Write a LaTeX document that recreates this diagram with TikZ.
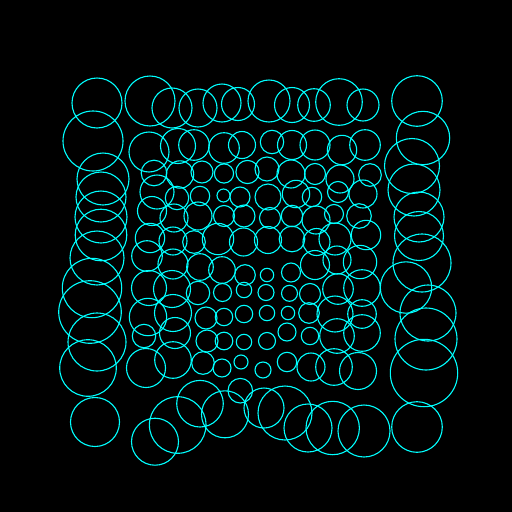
\documentclass[tikz,border=0pt]{standalone}
\begin{document}
\begin{tikzpicture}[x=1pt,y=-1pt,ring/.style={draw={rgb,255:red,0;green,255;blue,255},line width=1.1pt}]
\fill[black] (0,0) rectangle (512,512);
\useasboundingbox (0,0) rectangle (512,512);
% row 0
\foreach \x/\y/\r in {97/103/25,150/101/25,172/108/20,198/108/19,222/103/19,238/104/16.5,269/101/21,292/105/17.5,314/105/16.3,339/102/23.3,363/105/16,417/101/25.3}
  \draw[ring] (\x,\y) circle[radius=\r pt];
% row 1
\foreach \x/\y/\r in {93/141/30,149/152/20,178/146/17.5,194/145/15.3,224/148/15.3,242/145/13.5,272/142/11.7,292/145/14.5,315/145/15,342/150/14.7,365/145/15.3,423/138/26.7}
  \draw[ring] (\x,\y) circle[radius=\r pt];
% row 2
\foreach \x/\y/\r in {103/179/26,154/173/12.8,180/174.5/13.7,202/172/11,224/173.5/9.6,247.5/172/11.6,267/169/12,291/174/14,315/174/10.5,340/179/14,370/175/11.3,412/166/27.5}
  \draw[ring] (\x,\y) circle[radius=\r pt];
% row 3
\foreach \x/\y/\r in {101/197/25,157/192/17,177/198/11.7,200/196/9.7,223.5/195.5/6.5,240/197/10,268/197/13,296/194/13.7,312/197/9.7,338/192/10.5,363/194/14,414/190/26}
  \draw[ring] (\x,\y) circle[radius=\r pt];
% row 4
\foreach \x/\y/\r in {101/217/26,152/211/14.5,174/218/14,198/216/14,224/216/10.5,244/216/11,270/218/10.5,292/216/10.7,316/220/14,334/214/9.5,359/216/12.3,419/217/25}
  \draw[ring] (\x,\y) circle[radius=\r pt];
% row 5
\foreach \x/\y/\r in {101/235/25.8,150/238/14.7,173/241/14,194/242/11.3,218/239/15.7,243.5/242/14,268/240/13.5,292/239/12.8,316.5/242/13.5,335/239/16,366/235/14.7,419/236/24.5}
  \draw[ring] (\x,\y) circle[radius=\r pt];
% row 6
\foreach \x/\y/\r in {97/258/27,147/256/15.3,173/264/15,200/267/13.3,222/270/13.3,245/275/10.3,267/275/6.7,291/272.5/9.5,315/265/14.5,337/260/14,360/262/16.7,422/263/29}
  \draw[ring] (\x,\y) circle[radius=\r pt];
% row 7
\foreach \x/\y/\r in {92/288/29.7,149/288/17.5,172/289/18.5,198/293/11.7,222.5/292.5/9,244/290/7.7,266/292.5/8,289.5/293.3/8,310/294/10.5,338/289/15.3,362/288/18.3,406/287.5/25.7}
  \draw[ring] (\x,\y) circle[radius=\r pt];
% row 8
\foreach \x/\y/\r in {90/312/31.3,148/317/18.7,173/313/18.5,206/318/11,224/317/8.7,244/314/8.7,267/313/7.7,288/313/6.7,309/313/10.3,335/314/18,362/314/14.3,428/313/28}
  \draw[ring] (\x,\y) circle[radius=\r pt];
% row 9
\foreach \x/\y/\r in {97/342/29,144/336/11.7,175/333/15.5,207/341/11,224/341/8.8,244/342/7.7,267/341/8.5,287/332/9,310/336/8.7,337/336/17.3,362/333/18.3,426/339/31}
  \draw[ring] (\x,\y) circle[radius=\r pt];
% row 10
\foreach \x/\y/\r in {88/368/28.3,146/368/19.5,173/360/18.3,203/363/11.3,222/368/9,241/362/7,263/370/8,287/362/9.7,311/367/14,334/367/18.3,358/371/18.5,424/373/33.7}
  \draw[ring] (\x,\y) circle[radius=\r pt];
% row 11
\foreach \x/\y/\r in {95/422/24.5,155/441.7/23.5,177.7/425/28.3,200/403.7/23.3,225/414.3/23.5,240.3/390.7/12.3,264/408/20,285/413/27,308/428/24,332.7/428/26.7,364/431/26,417/427/25.3}
  \draw[ring] (\x,\y) circle[radius=\r pt];
\end{tikzpicture}
\end{document}
